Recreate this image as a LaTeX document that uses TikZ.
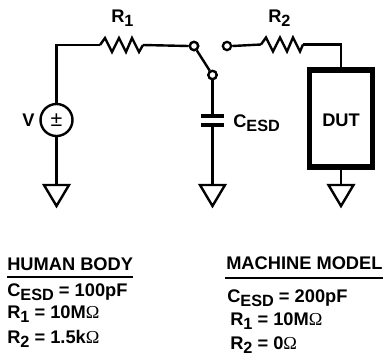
\documentclass[tikz,border=0pt]{standalone}
\usepackage{fontspec}
\setmainfont{Liberation Sans}
\newfontfamily\omegafont{Liberation Serif}
\newcommand{\sbs}[1]{\raisebox{-3pt}{\fontsize{12.2}{13}\selectfont #1}}
\newcommand{\ohm}{{\mdseries\omegafont\fontsize{13.7}{14}\selectfont Ω}}
\tikzset{
  wire/.style={line width=1.8pt,line cap=butt,line join=miter},
  lab/.style={inner sep=0pt,anchor=base west,font=\fontsize{13.7}{16}\selectfont\bfseries},
  term/.style={circle,draw,line width=1.7pt,fill=white,minimum size=6.2pt,inner sep=0pt},
  gnd/.style={line width=1.8pt,line join=miter},
  rule/.style={line width=1.4pt},
  plate/.style={line width=2.3pt},
}
\newcommand{\zigzag}[2]{\draw[wire] (#1) -- ++(5,-7) -- ++(7,14) -- ++(7,-14) -- ++(7,14) -- ++(6,-14) -- ++(7,14) -- (#2);}
\newcommand{\gndsym}[1]{\draw[gnd] (#1) ++(-12.5,0) -- ++(25,0) -- ++(-12.5,21) -- cycle;}
\begin{document}
\begin{tikzpicture}[x=0.75pt,y=-0.75pt]
\useasboundingbox (0,0) rectangle (383,355);
% named points
\coordinate (corner) at (56.5,45);
\coordinate (r1a) at (100,45);
\coordinate (r1b) at (143,45);
\coordinate (r2a) at (261,44.5);
\coordinate (r2b) at (303,44.5);
\coordinate (corner2) at (341,44.5);
\coordinate (g1) at (56.5,185);
\coordinate (g2) at (212.5,185);
\coordinate (g3) at (341,185);
\coordinate (c1l) at (201,116);
\coordinate (c1r) at (224,116);
\coordinate (c2l) at (201,125);
\coordinate (c2r) at (224,125);
\coordinate (c1) at (212.5,116);
\coordinate (c2) at (212.5,125);
\node[circle,draw,line width=1.8pt,minimum size=24pt,inner sep=0pt] (src) at (56.5,120) {};
\node[inner sep=0pt,font=\fontsize{16}{17}\selectfont] at (src) {±};
\node[draw,line width=4pt,minimum width=47.25pt,minimum height=72.75pt,inner sep=0pt] (dut) at (341,118.5) {};
\node[term] (sa) at (194,46) {};
\node[term] (sb) at (212.5,75) {};
\node[term] (sc) at (227,46) {};
% wires
\draw[wire] (src.north) -- (corner) -- (r1a);
\zigzag{r1a}{r1b}
\draw[wire] (r1b) -- (sa.west);
\draw[wire] (sa) -- (sb);
\draw[wire] (sb.south) -- (c1);
\draw[plate] (c1l) -- (c1r);
\draw[plate] (c2l) -- (c2r);
\draw[wire] (c2) -- (g2);
\draw[wire] (sc.east) -- (r2a);
\zigzag{r2a}{r2b}
\draw[wire] (r2b) -- (corner2) -- (dut.north);
\draw[wire] (src.south) -- (g1);
\draw[wire] (dut.south) -- (g3);
\gndsym{g1}
\gndsym{g2}
\gndsym{g3}
\node[term] at (sa) {};
\node[term] at (sb) {};
% labels
\node[lab] (lr1) at (111,22.7) {R\sbs{1}};
\node[lab] (lr2) at (268,22) {R\sbs{2}};
\node[lab] (lv) at (22,126) {V};
\node[lab] (lc) at (233,127) {C\sbs{ESD}};
\node[lab] (ld) at (322,126) {DUT};
% tables
\node[lab] (h1) at (7,270) {HUMAN BODY};
\coordinate (h1a) at (7,277);
\coordinate (h1b) at (133,277);
\draw[rule] (h1a) -- (h1b);
\node[lab] (h2) at (7,296) {C\sbs{ESD} = 100pF};
\node[lab] (h3) at (7,318) {R\sbs{1} = 10M\ohm};
\node[lab] (h4) at (7,343) {R\sbs{2} = 1.5k\ohm};
\node[lab] (m1) at (226,269) {MACHINE MODEL};
\coordinate (m1a) at (225,278);
\coordinate (m1b) at (383,278);
\draw[rule] (m1a) -- (m1b);
\node[lab] (m2) at (227,302) {C\sbs{ESD} = 200pF};
\node[lab] (m3) at (230,325) {R\sbs{1} = 10M\ohm};
\node[lab] (m4) at (230,349) {R\sbs{2} = 0\ohm};
\end{tikzpicture}
\end{document}
